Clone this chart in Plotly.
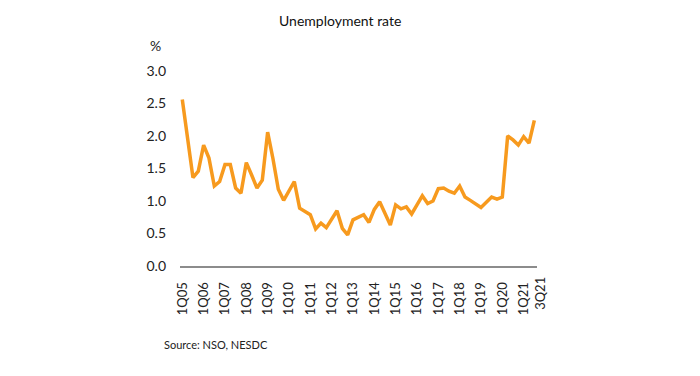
import plotly.graph_objects as go

quarters = [f"{q}Q{y:02d}" for y in range(5, 22) for q in range(1, 5)][:67]
rate = [2.56, 1.95, 1.36, 1.46, 1.86, 1.66, 1.23, 1.30, 1.56, 1.56,
        1.20, 1.12, 1.59, 1.40, 1.20, 1.32, 2.06, 1.65, 1.18, 1.01,
        1.15, 1.30, 0.89, 0.84, 0.79, 0.57, 0.66, 0.59, 0.71, 0.85,
        0.58, 0.48, 0.71, 0.75, 0.79, 0.67, 0.87, 0.99, 0.82, 0.63,
        0.94, 0.88, 0.91, 0.80, 0.94, 1.08, 0.96, 1.00, 1.19, 1.20,
        1.15, 1.12, 1.23, 1.06, 1.01, 0.95, 0.90, 0.98, 1.06, 1.03,
        1.06, 2.00, 1.94, 1.86, 1.99, 1.89, 2.24]
tick_labels = [f"1Q{y:02d}" for y in range(5, 22)]
last_label = "3Q21"
y_ticks = [0.0, 0.5, 1.0, 1.5, 2.0, 2.5, 3.0]

x_idx = list(range(len(rate)))
tick_pos = [quarters.index(t) for t in tick_labels]
last_pos = quarters.index(last_label)

font_family = "Lato, 'Open Sans', sans-serif"

fig = go.Figure()
fig.add_trace(go.Scatter(
    x=x_idx, y=rate, mode="lines",
    line=dict(color="#F79A1E", width=3.5),
    hoverinfo="skip", showlegend=False,
))

fig.update_layout(
    width=700, height=376,
    margin=dict(l=180, r=163, t=71, b=110),
    paper_bgcolor="white", plot_bgcolor="white",
    font=dict(family=font_family, color="#222222", size=14),
    title=dict(text="Unemployment rate", x=0.486, xanchor="center",
               y=0.945, yanchor="middle",
               font=dict(size=14, color="#111111", family=font_family)),
    xaxis=dict(
        range=[-0.43, 66.5], showgrid=False, zeroline=False,
        showline=True, linecolor="#8C8C8C", linewidth=2,
        tickmode="array", tickvals=tick_pos, ticktext=tick_labels,
        tickangle=-90, tickfont=dict(size=13), ticks="",
        ticklabelstandoff=9,
    ),
    yaxis=dict(
        range=[0, 3.0], showgrid=False, zeroline=False, showline=False,
        tickmode="array", tickvals=y_ticks,
        ticktext=[f"{v:.1f}" for v in y_ticks],
        tickfont=dict(size=14), ticks="", ticklabelstandoff=13,
    ),
    annotations=[
        dict(text="%", xref="paper", yref="paper", x=-0.07, y=1.13,
             xanchor="center", yanchor="middle", showarrow=False,
             font=dict(size=14)),
        dict(text="Source: NSO, NESDC", xref="paper", yref="paper",
             x=-0.05, y=-0.40, xanchor="left", yanchor="middle",
             showarrow=False, font=dict(size=11)),
        dict(text=last_label, xref="x", yref="paper", x=last_pos, y=0,
             xshift=5, yshift=-9, textangle=-90, xanchor="center",
             yanchor="top", showarrow=False, font=dict(size=13)),
    ],
)

fig.write_html("out.html")
